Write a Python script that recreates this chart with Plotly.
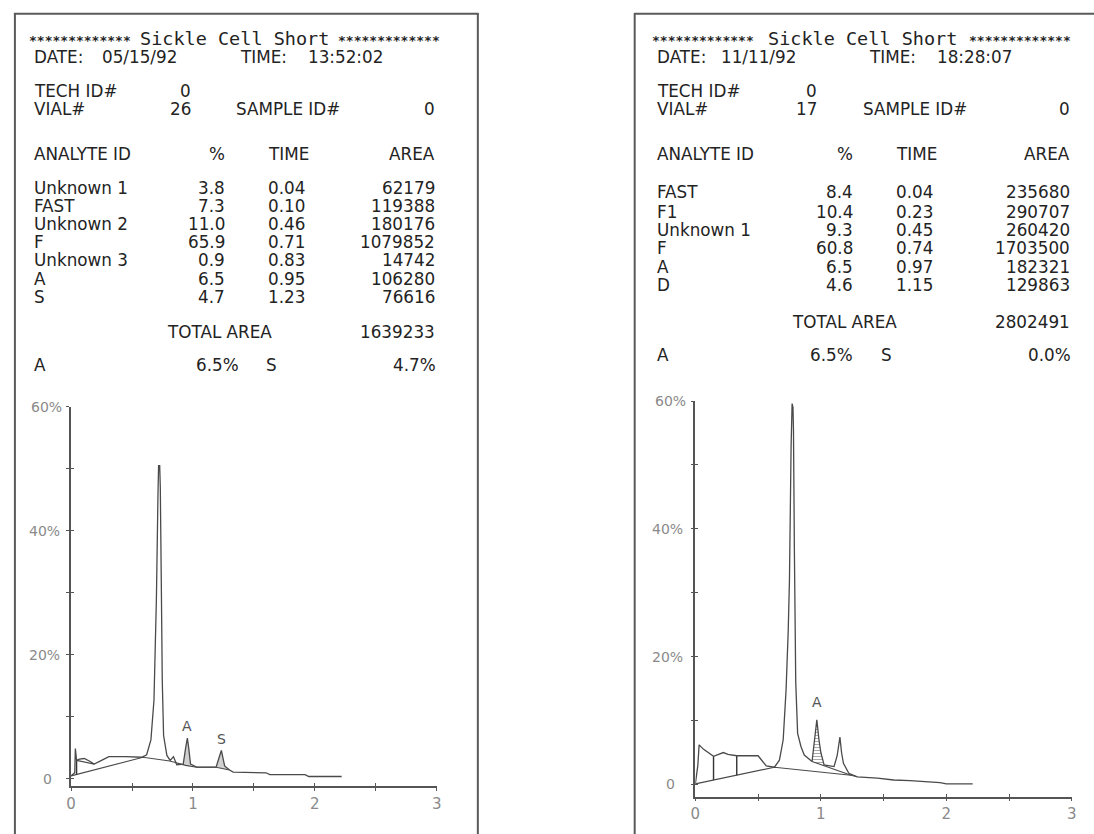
import plotly.graph_objects as go
import numpy as np

W, H = 1094, 834

# ---------------- data: left printout ----------------
L_date, L_time = "05/15/92", "13:52:02"
L_tech, L_vial, L_sample = "0", "26", "0"
L_analytes = ["Unknown 1", "FAST", "Unknown 2", "F", "Unknown 3", "A", "S"]
L_pct = ["3.8", "7.3", "11.0", "65.9", "0.9", "6.5", "4.7"]
L_rt = ["0.04", "0.10", "0.46", "0.71", "0.83", "0.95", "1.23"]
L_area = ["62179", "119388", "180176", "1079852", "14742", "106280", "76616"]
L_total = "1639233"
L_A, L_S = "6.5%", "4.7%"

# ---------------- data: right printout ----------------
R_date, R_time = "11/11/92", "18:28:07"
R_tech, R_vial, R_sample = "0", "17", "0"
R_analytes = ["FAST", "F1", "Unknown 1", "F", "A", "D"]
R_pct = ["8.4", "10.4", "9.3", "60.8", "6.5", "4.6"]
R_rt = ["0.04", "0.23", "0.45", "0.74", "0.97", "1.15"]
R_area = ["235680", "290707", "260420", "1703500", "182321", "129863"]
R_total = "2802491"
R_A, R_S = "6.5%", "0.0%"

# ---------------- chromatograms (time in min, signal in %) ----------------
L_t = [0, 0.03, 0.035, 0.045, 0.068, 0.108, 0.149, 0.19, 0.27, 0.31, 0.45, 0.58, 0.62, 0.655,
       0.68, 0.70, 0.713, 0.718, 0.727, 0.732, 0.74, 0.748, 0.759, 0.786, 0.813, 0.84, 0.867,
       0.92, 0.94, 0.954, 0.965, 0.98, 1.03, 1.19, 1.215, 1.233, 1.245, 1.26, 1.30, 1.33,
       1.60, 1.63, 1.92, 1.95, 2.22]
L_y = [0.5, 1.0, 4.9, 3.0, 3.2, 3.3, 2.9, 2.4, 3.2, 3.6, 3.6, 3.5, 3.9, 6.3,
       12.7, 29, 46, 50.5, 50.5, 47, 32, 16, 7, 3.8, 3.0, 3.6, 2.3,
       2.4, 5.0, 6.6, 5.0, 2.4, 1.9, 1.9, 3.5, 4.6, 3.5, 2.1, 1.45, 1.1,
       1.0, 0.7, 0.7, 0.4, 0.4]
L_base_t = [0, 0.59, 0.81, 0.94, 1.03, 1.19, 1.30]
L_base_y = [0.5, 3.5, 2.9, 2.2, 1.9, 1.9, 1.45]
L_skim_t = [0.045, 0.19]
L_skim_y = [3.0, 2.4]
L_drops = [0.045]
L_shaded = [(0.92, 0.98), (1.19, 1.30)]
L_labels = [("A", 0.953, 8.6), ("S", 1.233, 6.4)]

R_t = [0, 0.02, 0.03, 0.066, 0.145, 0.223, 0.26, 0.33, 0.50, 0.565, 0.63, 0.67, 0.70, 0.723,
       0.74, 0.75, 0.763, 0.771, 0.778, 0.782, 0.789, 0.80, 0.815, 0.842, 0.868, 0.93, 0.95,
       0.968, 0.985, 1.0, 1.026, 1.105, 1.13, 1.152, 1.165, 1.18, 1.223, 1.29, 1.45, 1.58,
       1.71, 1.95, 2.0, 2.21]
R_y = [0.1, 3.0, 6.2, 5.5, 4.4, 5.0, 4.7, 4.5, 4.5, 2.9, 2.7, 3.8, 7.0, 14.8,
       24, 32, 52.8, 59.6, 59, 55.4, 37, 16, 8, 5.9, 4.6, 3.6, 7.0,
       10.1, 7.0, 5.0, 3.05, 2.8, 4.5, 7.4, 5.0, 3.3, 1.75, 1.2, 1.0, 0.7,
       0.6, 0.3, 0.1, 0.1]
R_base_t = [0, 0.63, 1.24, 1.29]
R_base_y = [0.1, 2.7, 1.45, 1.2]
R_skim_t = [0.93, 1.24]
R_skim_y = [3.6, 1.45]
R_drops = [0.145, 0.33]
R_shaded = [(0.93, 1.026)]
R_labels = [("A", 0.966, 12.9)]

X_TICKS = [0, 0.5, 1, 1.5, 2, 2.5, 3]
X_TICKTEXT = ["0", "", "1", "", "2", "", "3"]
Y_TICKS = [0, 10, 20, 30, 40, 50, 60]
Y_LABELS = [(0, "0"), (20, "20%"), (40, "40%"), (60, "60%")]

TXT = "#232323"
LINE = "#4a4a4a"
GRAY = "#8a8a8a"
BODY = "DejaVu Sans"
MONO = "DejaVu Sans Mono"
FS = 16.8

fig = go.Figure()
ann = []
shapes = []


def T(text, xp, yp, anchor="left", size=FS, family=BODY, color=TXT, weight="normal"):
    ann.append(dict(text=text, x=xp / W, y=1 - yp / H, xref="paper", yref="paper",
                    xanchor=anchor, yanchor="middle", showarrow=False, borderpad=0,
                    font=dict(family=family, size=size, color=color, weight=weight)))


def seg(x0, y0, x1, y1, color="#5a5a5a", width=2):
    shapes.append(dict(type="line", xref="paper", yref="paper", x0=x0 / W, y0=1 - y0 / H,
                       x1=x1 / W, y1=1 - y1 / H, line=dict(color=color, width=width)))


# borders
seg(9, 13.7, 477.7, 13.7)
seg(10, 13, 10, 840)
seg(477.2, 13, 477.2, 840)
seg(635, 13.7, 1100, 13.7)
seg(635.5, 13, 635.5, 840)


def header(p):
    T("*" * 13, p["s1"], p["ty"] + 1, "right", 13, MONO, weight="bold")
    T("Sickle Cell Short", p["tc"], p["ty"] - 1, "center", 18.5, MONO)
    T("*" * 13, p["s2"], p["ty"] + 1, "left", 13, MONO, weight="bold")
    T("DATE:", p["x0"], 57.3)
    T(p["date"], p["dx"], 57.3)
    T("TIME:", p["tx"], 57.3)
    T(p["time"], p["tvx"], 57.3)
    T("TECH ID#", p["x0"], 90.7)
    T(p["tech"], p["vr"], 90.7, "right")
    T("VIAL#", p["x0"], 109)
    T(p["vial"], p["vr"], 109, "right")
    T("SAMPLE ID#", p["sx"], 109)
    T(p["sample"], p["ar"], 109, "right")
    T("ANALYTE ID", p["x0"], 154)
    T("%", p["pr"], 154, "right")
    T("TIME", p["rtx"], 154)
    T("AREA", p["ar"], 154, "right")
    for i, name in enumerate(p["names"]):
        y = p["rows"][i]
        T(name, p["x0"], y)
        T(p["pct"][i], p["pr"], y, "right")
        T(p["rt"][i], p["rtx"], y)
        T(p["area"][i], p["ar"], y, "right")
    T("TOTAL AREA", p["tax"], p["tay"])
    T(p["total"], p["ar"], p["tay"], "right")
    T("A", p["x0"], p["by"])
    T(p["A"], p["apr"], p["by"], "right")
    T("S", p["sx2"], p["by"])
    T(p["S"], p["ar"] + 1, p["by"], "right")


header(dict(s1=128, tc=231.5, s2=335, ty=39.3, x0=28, date=L_date, dx=97.3, tx=236, time=L_time,
            tvx=304.3, tech=L_tech, vr=188.5, vial=L_vial, sx=231.7, sample=L_sample, ar=435,
            pr=222.7, rtx=264, names=L_analytes, pct=L_pct, rt=L_rt, area=L_area,
            rows=[188.3, 206, 224, 242, 260.3, 279.3, 297.3], tax=162.3, tay=331.7,
            total=L_total, by=365, A=L_A, apr=237, sx2=262, S=L_S))
header(dict(s1=757, tc=865.5, s2=972, ty=39.3, x0=656.7, date=R_date, dx=721.7, tx=870.7,
            time=R_time, tvx=940, tech=R_tech, vr=821, vial=R_vial, sx=865, sample=R_sample,
            ar=1076, pr=856.7, rtx=898.3, names=R_analytes, pct=R_pct, rt=R_rt, area=R_area,
            rows=[192.3, 211.7, 230, 248, 267.3, 285], tax=793.3, tay=321.7,
            total=R_total, by=355, A=R_A, apr=857, sx2=883, S=R_S))

# ---------------- chromatogram plotting ----------------
panels = [
    dict(xs="x", ys="y", xo="x3", yo="y3", t=L_t, y=L_y, bt=L_base_t, by=L_base_y,
         st=L_skim_t, sy=L_skim_y, drops=L_drops, shaded=L_shaded, labels=L_labels,
         hatch=False, ylab_shift={0: -17, 20: -9, 40: -9, 60: -7}),
    dict(xs="x2", ys="y2", xo="x4", yo="y4", t=R_t, y=R_y, bt=R_base_t, by=R_base_y,
         st=R_skim_t, sy=R_skim_y, drops=R_drops, shaded=R_shaded, labels=R_labels,
         hatch=True, ylab_shift={0: -18, 20: -10, 40: -10, 60: -7}),
]

for p in panels:
    t = np.array(p["t"], float)
    y = np.array(p["y"], float)
    bt = np.array(p["bt"], float)
    by = np.array(p["by"], float)
    # shaded peaks
    for (a, b) in p["shaded"]:
        m = (t >= a) & (t <= b)
        if p["hatch"]:
            base_t = np.array(p["st"], float)
            base_y = np.array(p["sy"], float)
        else:
            base_t, base_y = bt, by
        px_ = list(t[m]) + [b, a]
        py_ = list(y[m]) + [float(np.interp(b, base_t, base_y)), float(np.interp(a, base_t, base_y))]
        if p["hatch"]:
            fig.add_trace(go.Scatter(x=px_, y=py_, xaxis=p["xs"], yaxis=p["ys"], mode="lines",
                                     fill="toself", fillcolor="rgba(0,0,0,0)",
                                     fillpattern=dict(shape="-", fgcolor="#555", size=3, solidity=0.35),
                                     line=dict(width=0), hoverinfo="skip", showlegend=False))
        else:
            fig.add_trace(go.Scatter(x=px_, y=py_, xaxis=p["xs"], yaxis=p["ys"], mode="lines",
                                     fill="toself", fillcolor="rgba(120,120,120,0.35)",
                                     line=dict(width=0), hoverinfo="skip", showlegend=False))
    # baseline
    fig.add_trace(go.Scatter(x=bt, y=by, xaxis=p["xs"], yaxis=p["ys"], mode="lines",
                             line=dict(color=LINE, width=1.1), hoverinfo="skip", showlegend=False))
    # skim line
    fig.add_trace(go.Scatter(x=p["st"], y=p["sy"], xaxis=p["xs"], yaxis=p["ys"], mode="lines",
                             line=dict(color=LINE, width=1.1), hoverinfo="skip", showlegend=False))
    # drop lines
    for d in p["drops"]:
        fig.add_trace(go.Scatter(x=[d, d], y=[float(np.interp(d, t, y)), float(np.interp(d, bt, by))],
                                 xaxis=p["xs"], yaxis=p["ys"], mode="lines",
                                 line=dict(color="#333", width=1.4), hoverinfo="skip", showlegend=False))
    # signal
    fig.add_trace(go.Scatter(x=t, y=y, xaxis=p["xs"], yaxis=p["ys"], mode="lines",
                             line=dict(color=LINE, width=1.3), hoverinfo="skip", showlegend=False))
    # overlay dummy trace for inside ticks
    fig.add_trace(go.Scatter(x=[0], y=[0], xaxis=p["xo"], yaxis=p["yo"], mode="markers",
                             marker=dict(opacity=0), hoverinfo="skip", showlegend=False))
    for (txt, lx, ly) in p["labels"]:
        ann.append(dict(text=txt, x=lx, y=ly, xref=p["xs"], yref=p["ys"], showarrow=False,
                        font=dict(family=BODY, size=14, color="#555"), yanchor="middle"))
    for (v, txt) in Y_LABELS:
        ann.append(dict(text=txt, x=0, y=v, xref=p["xs"], yref=p["ys"], showarrow=False,
                        xanchor="right", yanchor="middle", xshift=p["ylab_shift"][v],
                        font=dict(family=BODY, size=14, color=GRAY)))

xbase = dict(range=[0, 3], showgrid=False, zeroline=False, showline=True, linecolor="#555",
             linewidth=1.5, tickvals=X_TICKS, ticktext=X_TICKTEXT, ticks="outside", ticklen=3,
             tickwidth=1.3, tickcolor="#555", tickfont=dict(family=BODY, size=15, color=GRAY),
             fixedrange=True)
ybase = dict(showgrid=False, zeroline=False, showline=True, linecolor="#555", linewidth=1.5,
             tickvals=Y_TICKS, ticks="outside", ticklen=3, tickwidth=1.3, tickcolor="#555",
             showticklabels=False, fixedrange=True)


def ov(base, over, anchor, rng):
    d = dict(base)
    d.update(overlaying=over, anchor=anchor, ticks="inside", showline=False,
             showticklabels=False, range=rng)
    return d


L_yr = [-1.13, 60]
R_yr = [-1.91, 60]
fig.update_layout(
    width=W, height=H, margin=dict(l=0, r=0, t=0, b=0),
    paper_bgcolor="white", plot_bgcolor="rgba(0,0,0,0)", showlegend=False,
    xaxis=dict(xbase, domain=[66.7 / W, 435.7 / W], anchor="y"),
    yaxis=dict(ybase, domain=[1 - 786 / H, 1 - 406.7 / H], range=L_yr, anchor="x"),
    xaxis2=dict(xbase, domain=[696.7 / W, 1076.7 / W], anchor="y2"),
    yaxis2=dict(ybase, domain=[1 - 796.7 / H, 1 - 401 / H], range=R_yr, anchor="x2"),
    xaxis3=ov(xbase, "x", "y3", [0, 3]),
    yaxis3=ov(ybase, "y", "x3", L_yr),
    xaxis4=ov(xbase, "x2", "y4", [0, 3]),
    yaxis4=ov(ybase, "y2", "x4", R_yr),
    annotations=ann, shapes=shapes,
)

fig.write_html("out.html", config={"displayModeBar": False},
               post_script="document.body.style.margin='0';document.body.style.overflow='hidden';")
